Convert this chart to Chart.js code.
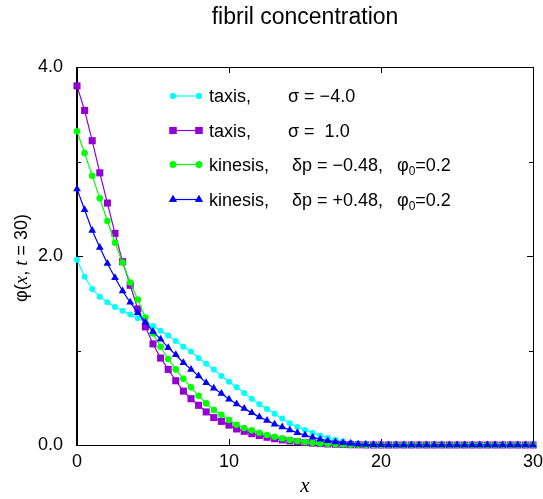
<!DOCTYPE html>
<html><head><meta charset="utf-8">
<script src="https://cdn.jsdelivr.net/npm/chart.js@4/dist/chart.umd.min.js"></script>
<style>html,body{margin:0;padding:0;background:#fff;}#wrap{width:543px;height:499px;}</style>
</head><body><div id="wrap"><canvas id="c" width="543" height="499"></canvas></div>
<script>
const chartTitle = 'fibril concentration';
const xValues = [0,0.5,1,1.5,2,2.5,3,3.5,4,4.5,5,5.5,6,6.5,7,7.5,8,8.5,9,9.5,10,10.5,11,11.5,12,12.5,13,13.5,14,14.5,15,15.5,16,16.5,17,17.5,18,18.5,19,19.5,20,20.5,21,21.5,22,22.5,23,23.5,24,24.5,25,25.5,26,26.5,27,27.5,28,28.5,29,29.5,30];
const taxisSigmaNeg4 = [1.96,1.78,1.65,1.57,1.51,1.46,1.42,1.38,1.34,1.31,
 1.26,1.21,1.16,1.10,1.04,0.99,0.92,0.86,0.80,0.73,
 0.67,0.61,0.55,0.49,0.43,0.38,0.33,0.28,0.23,0.19,
 0.16,0.13,0.10,0.078,0.055,0.038,0.025,0.015,0.009,0.005,
 0.003,0.002,0.001,0.001,0,0,0,0,0,0,
 0,0,0,0,0,0,0,0,0,0,0];
const taxisSigma1 = [3.80,3.54,3.22,2.88,2.56,2.24,1.94,1.69,1.44,1.25,
 1.07,0.92,0.80,0.68,0.57,0.49,0.42,0.35,0.29,0.25,
 0.21,0.17,0.145,0.12,0.10,0.082,0.067,0.054,0.043,0.034,
 0.026,0.02,0.015,0.011,0.008,0.005,0.003,0.002,0.001,0,
 0,0,0,0,0,0,0,0,0,0,
 0,0,0,0,0,0,0,0,0,0,0];
const kinesisMinus = [3.32,3.09,2.85,2.61,2.37,2.14,1.93,1.72,1.54,1.35,
 1.18,1.04,0.91,0.80,0.70,0.61,0.52,0.44,0.37,0.32,
 0.265,0.215,0.18,0.155,0.13,0.106,0.088,0.07,0.054,0.042,
 0.032,0.024,0.017,0.012,0.008,0.005,0.003,0.002,0.001,0,
 0,0,0,0,0,0,0,0,0,0,
 0,0,0,0,0,0,0,0,0,0,0];
const kinesisPlus = [2.71,2.49,2.27,2.09,1.92,1.77,1.63,1.51,1.40,1.30,
 1.20,1.12,1.03,0.955,0.87,0.80,0.73,0.66,0.60,0.545,
 0.485,0.435,0.385,0.34,0.295,0.26,0.22,0.19,0.16,0.13,
 0.106,0.082,0.062,0.046,0.033,0.023,0.015,0.009,0.005,0.003,
 0.002,0.001,0,0,0,0,0,0,0,0,
 0,0,0,0,0,0,0,0,0,0,0];
const xMajorTicks = [10, 20];
const yMajorTicks = [2];
const yMinorTicks = [1, 3];

const SANS = '"Liberation Sans", Arial, Helvetica, sans-serif';
const SERIF = '"Liberation Serif", "Times New Roman", serif';

const seriesDefs = [
  {key:'cyan', data: taxisSigmaNeg4, color:'rgb(0,255,255)', style:'circle', r:3, order:4,
   label:[{t:'taxis,',x:209},{t:'σ = −4.0',x:288}]},
  {key:'violet', data: taxisSigma1, color:'rgb(148,0,211)', style:'rect', r:5, order:3,
   label:[{t:'taxis,',x:209},{t:'σ =  1.0',x:288}]},
  {key:'green', data: kinesisMinus, color:'rgb(0,255,0)', style:'circle', r:3.3, order:2,
   label:[{t:'kinesis,',x:209},{t:'δp = −0.48,',x:292},{t:'φ',x:397,sub:'0',after:'=0.2'}]},
  {key:'blue', data: kinesisPlus, color:'rgb(0,0,255)', style:'triangle', r:4.5, order:1,
   label:[{t:'kinesis,',x:209},{t:'δp = +0.48,',x:292},{t:'φ',x:397,sub:'0',after:'=0.2'}]}
];
const legendRowsY = [96, 130.5, 164.5, 199.5];

const datasets = seriesDefs.map(s => ({
  label: s.key,
  data: xValues.map((x, i) => ({x: x, y: s.data[i]})),
  borderColor: s.color, backgroundColor: s.color,
  borderWidth: 1.2, pointStyle: s.style, pointRadius: s.r, pointHoverRadius: s.r,
  pointBorderWidth: 0, pointBackgroundColor: s.color, pointBorderColor: s.color,
  tension: 0, clip: false, order: s.order, showLine: true
}));

const decor = {
  id: 'decor',
  beforeDatasetsDraw(chart) {
    const ctx = chart.ctx, a = chart.chartArea;
    const xs = chart.scales.x, ys = chart.scales.y;
    ctx.save();
    ctx.strokeStyle = '#000';
    ctx.lineWidth = 1;
    ctx.strokeRect(a.left + 0.5, a.top + 0.5, a.right - a.left, a.bottom - a.top);
    ctx.lineWidth = 2;
    ctx.beginPath(); ctx.moveTo(a.left, a.top); ctx.lineTo(a.left, a.bottom + 1); ctx.stroke();
    ctx.lineWidth = 1;
    ctx.beginPath();
    xMajorTicks.forEach(v => {
      const px = Math.round(xs.getPixelForValue(v)) + 0.5;
      ctx.moveTo(px, a.bottom); ctx.lineTo(px, a.bottom - 6);
      ctx.moveTo(px, a.top); ctx.lineTo(px, a.top + 6);
    });
    yMajorTicks.forEach(v => {
      const py = Math.round(ys.getPixelForValue(v)) + 0.5;
      ctx.moveTo(a.left, py); ctx.lineTo(a.left + 6, py);
      ctx.moveTo(a.right, py); ctx.lineTo(a.right - 6, py);
    });
    yMinorTicks.forEach(v => {
      const py = Math.round(ys.getPixelForValue(v)) + 0.5;
      ctx.moveTo(a.left, py); ctx.lineTo(a.left + 4, py);
      ctx.moveTo(a.right, py); ctx.lineTo(a.right - 4, py);
    });
    ctx.stroke();
    ctx.restore();
  },
  afterDraw(chart) {
    const ctx = chart.ctx, a = chart.chartArea;
    ctx.save();
    ctx.fillStyle = '#000';
    // title
    ctx.font = '23px ' + SANS;
    ctx.textAlign = 'center'; ctx.textBaseline = 'alphabetic';
    ctx.fillText(chartTitle, (a.left + a.right) / 2, 24);
    // legend
    ctx.textAlign = 'left';
    seriesDefs.forEach((s, i) => {
      const y = legendRowsY[i];
      ctx.strokeStyle = s.color; ctx.lineWidth = 1.2;
      ctx.beginPath(); ctx.moveTo(173, y); ctx.lineTo(199, y); ctx.stroke();
      ctx.fillStyle = s.color;
      [173, 199].forEach(px => {
        Chart.helpers.drawPoint(ctx, {pointStyle: s.style, radius: s.r, rotation: 0, borderWidth: 0}, px, y);
        ctx.fill();
      });
      ctx.fillStyle = '#000';
      s.label.forEach(p => {
        ctx.font = '18px ' + SANS;
        ctx.fillText(p.t, p.x, y + 6);
        if (p.sub) {
          let w = ctx.measureText(p.t).width;
          ctx.font = '12px ' + SANS;
          ctx.fillText(p.sub, p.x + w, y + 10);
          const w2 = ctx.measureText(p.sub).width;
          ctx.font = '18px ' + SANS;
          ctx.fillText(p.after, p.x + w + w2, y + 6);
        }
      });
    });
    // y axis title (rotated, mixed styles)
    const parts = [
      {t:'φ(', f:'18px ' + SANS},
      {t:'x', f:'italic 19px ' + SERIF},
      {t:', ', f:'18px ' + SANS},
      {t:'t', f:'italic 19px ' + SERIF},
      {t:' = 30)', f:'18px ' + SANS}
    ];
    let total = 0;
    parts.forEach(p => { ctx.font = p.f; p.w = ctx.measureText(p.t).width; total += p.w; });
    ctx.translate(27, (a.top + a.bottom) / 2 + 2);
    ctx.rotate(-Math.PI / 2);
    let cx = -total / 2;
    parts.forEach(p => { ctx.font = p.f; ctx.fillText(p.t, cx, 0); cx += p.w; });
    ctx.restore();
  }
};

new Chart(document.getElementById('c'), {
  type: 'line',
  data: { datasets: datasets },
  options: {
    responsive: false, animation: false, devicePixelRatio: 1,
    layout: { padding: { top: 67, right: 10, left: 0, bottom: 0 } },
    plugins: { legend: { display: false }, title: { display: false }, tooltip: { enabled: false } },
    scales: {
      x: {
        type: 'linear', min: 0, max: 30,
        ticks: { stepSize: 10, color: '#000', font: { family: SANS, size: 18 }, padding: 6, maxRotation: 0 },
        grid: { display: false, drawTicks: false }, border: { display: false },
        title: { display: true, text: 'x', color: '#000', font: { family: SERIF, size: 21, style: 'italic' }, padding: { top: 0, bottom: 0 } },
        afterFit: s => { s.height = 54; s.paddingLeft = 0; s.paddingRight = 0; }
      },
      y: {
        type: 'linear', min: 0, max: 4,
        ticks: { stepSize: 2, color: '#000', font: { family: SANS, size: 18 }, padding: 14, callback: v => Number(v).toFixed(1) },
        grid: { display: false, drawTicks: false }, border: { display: false },
        afterFit: s => { s.width = 77; s.paddingTop = 0; s.paddingBottom = 0; }
      }
    }
  },
  plugins: [decor]
});
</script>
</body></html>
